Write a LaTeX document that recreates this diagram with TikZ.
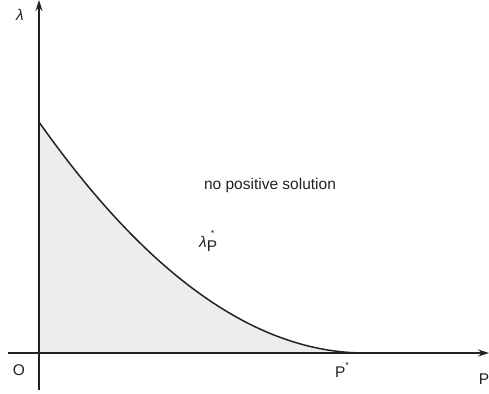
\documentclass[tikz,border=0pt]{standalone}
\usepackage{fontspec}
\setmainfont{Liberation Sans}
\usetikzlibrary{arrows.meta}
\definecolor{axcol}{HTML}{222222}
\definecolor{fillgrey}{HTML}{EDEDEF}
\newcommand{\smallstar}{\fontsize{9}{9}\selectfont *}
\begin{document}
\begin{tikzpicture}[x=1pt,y=1pt,
  axis/.style={draw=axcol,line width=1.2pt,-{Stealth[length=11pt,width=7pt]}},
  curve/.style={draw=axcol,line width=1.5pt},
  lbl/.style={inner sep=0pt,font=\fontsize{15.5}{17}\selectfont,text=axcol}]
\useasboundingbox (0,0) rectangle (489,393);
\coordinate (O) at (39,40);
\coordinate (A) at (39,271);
\coordinate (B) at (365,40);
\fill[fillgrey] (A) .. controls (147.7,117) and (256.3,40) .. (B) -- (O) -- cycle;
\coordinate (xs) at (8,40);
\coordinate (xe) at (489,40);
\coordinate (ys) at (39,3);
\coordinate (ye) at (39,393);
\draw[axis] (xs) -- (xe);
\draw[axis] (ys) -- (ye);
\draw[curve] (A) .. controls (147.7,117) and (256.3,40) .. (B) -- (368,40);
\node[lbl] (lam) at (20,378) {\itshape λ};
\node[lbl] (o) at (19,23) {O};
\node[lbl] (pstar) at (342,23) {P\raisebox{1.1ex}{\smallstar}};
\node[lbl] (p) at (484,14) {P};
\node[lbl] (nps) at (270,208) {no positive solution};
\node[lbl,anchor=west] (lp) at (199,152) {{\itshape λ}\makebox[0pt][l]{\hspace{4pt}\raisebox{1.3ex}{\smallstar}}\raisebox{-0.55ex}{P}};
\end{tikzpicture}
\end{document}
